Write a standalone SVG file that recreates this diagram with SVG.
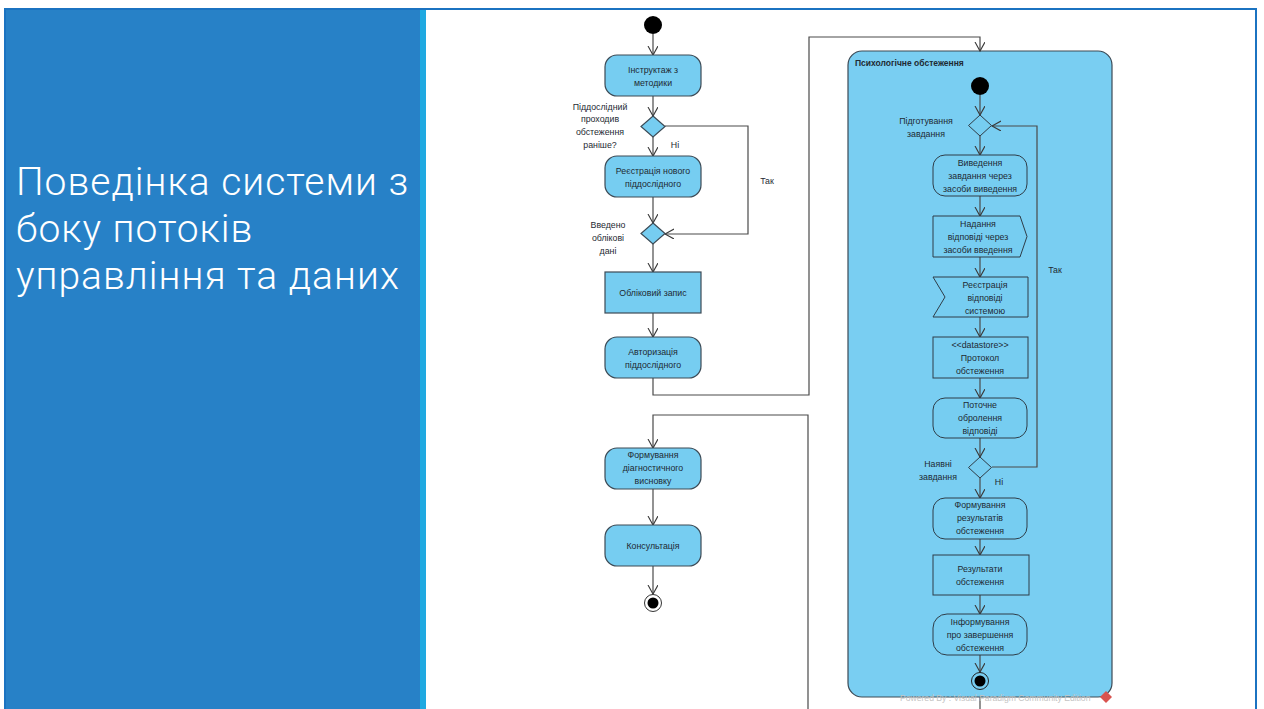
<svg xmlns="http://www.w3.org/2000/svg" width="1264" height="709" viewBox="0 0 1264 709">
  <style>
    .title { font-family: Roboto, "Open Sans", "DejaVu Sans", sans-serif; font-size: 39px; font-weight: 300; letter-spacing: 1px; fill: #ffffff; }
    .lbl { font-family: "Liberation Sans", Arial, sans-serif; font-size: 8.8px; fill: #1e2a33; text-anchor: middle; }
    .hdr { font-family: "Liberation Sans", Arial, sans-serif; font-size: 8.5px; font-weight: bold; fill: #1e2a33; }
    .node { fill: #76CDF1; stroke: #3c4a55; stroke-width: 1.2; }
    .inner { fill: #76CDF1; stroke: #2f3d48; stroke-width: 1; }
    .edge { fill: none; stroke: #4a4a4a; stroke-width: 1.2; }
    .wm { font-family: "Liberation Sans", Arial, sans-serif; font-size: 8.6px; fill: #c4c4c4; }
  </style>
  <defs>
    <marker id="open" markerWidth="12" markerHeight="12" refX="9" refY="5" orient="auto" markerUnits="userSpaceOnUse">
      <path d="M0,0 L9,5 L0,10" fill="none" stroke="#3a3a3a" stroke-width="1.1"/>
    </marker>
  </defs>

  <!-- slide background and frame -->
  <rect x="0" y="0" width="1264" height="709" fill="#ffffff"/>
  <rect x="6" y="9" width="414" height="700" fill="#2781C7"/>
  <rect x="420" y="9" width="6" height="700" fill="#1FA9E1"/>
  <path d="M5,709 L5,9 L1256,9 L1256,709" fill="none" stroke="#1B73C1" stroke-width="2"/>

  <!-- slide heading -->
  <g id="heading">
    <text class="title" x="16" y="195">Поведінка системи з<tspan x="16" dy="47">боку потоків</tspan><tspan x="16" dy="47">управління та даних</tspan></text>
  </g>

  <!-- composite activity frame -->
  <g id="psych-exam">
    <rect x="848" y="51" width="264" height="646" rx="14" fill="#79CEF2" stroke="#3c4a55" stroke-width="1.2"/>
    <text class="hdr" x="855" y="66">Психологічне обстеження</text>
  </g>

  <!-- connectors -->
  <g id="connectors">
    <!-- main column -->
    <line class="edge" x1="653" y1="34" x2="653" y2="55" marker-end="url(#open)"/>
    <line class="edge" x1="653" y1="96" x2="653" y2="116" marker-end="url(#open)"/>
    <line class="edge" x1="653" y1="137" x2="653" y2="156" marker-end="url(#open)"/>
    <polyline class="edge" points="665,126 748,126 748,234 665,234" marker-end="url(#open)"/>
    <line class="edge" x1="653" y1="197" x2="653" y2="223" marker-end="url(#open)"/>
    <line class="edge" x1="653" y1="244" x2="653" y2="272" marker-end="url(#open)"/>
    <line class="edge" x1="653" y1="313" x2="653" y2="337" marker-end="url(#open)"/>
    <polyline class="edge" points="653,378 653,395 809,395 809,37 980,37 980,51" marker-end="url(#open)"/>
    <polyline class="edge" points="808,709 808,415 653,415 653,448" marker-end="url(#open)"/>
    <line class="edge" x1="653" y1="489" x2="653" y2="525" marker-end="url(#open)"/>
    <line class="edge" x1="653" y1="566" x2="653" y2="594" marker-end="url(#open)"/>
    <line class="edge" x1="980" y1="697" x2="980" y2="709"/>
    <!-- inside the examination -->
    <line class="edge" x1="980" y1="95" x2="980" y2="115" marker-end="url(#open)"/>
    <line class="edge" x1="980" y1="136" x2="980" y2="155" marker-end="url(#open)"/>
    <line class="edge" x1="980" y1="196" x2="980" y2="216" marker-end="url(#open)"/>
    <line class="edge" x1="980" y1="257" x2="980" y2="277" marker-end="url(#open)"/>
    <line class="edge" x1="980" y1="317" x2="980" y2="337" marker-end="url(#open)"/>
    <line class="edge" x1="980" y1="378" x2="980" y2="398" marker-end="url(#open)"/>
    <line class="edge" x1="980" y1="438" x2="980" y2="457" marker-end="url(#open)"/>
    <polyline class="edge" points="992,467 1037,467 1037,126 992,126" marker-end="url(#open)"/>
    <line class="edge" x1="980" y1="478" x2="980" y2="498" marker-end="url(#open)"/>
    <line class="edge" x1="980" y1="539" x2="980" y2="555" marker-end="url(#open)"/>
    <line class="edge" x1="980" y1="595" x2="980" y2="614" marker-end="url(#open)"/>
    <line class="edge" x1="980" y1="655" x2="980" y2="672" marker-end="url(#open)"/>
  </g>

  <!-- guard labels -->
  <g id="guards">
    <text class="lbl" x="675" y="148">Ні</text>
    <text class="lbl" x="767" y="184">Так</text>
    <text class="lbl" x="1055" y="273">Так</text>
    <text class="lbl" x="999" y="485">Ні</text>
  </g>

  <!-- main column nodes -->
  <g id="start">
    <circle cx="653" cy="25" r="9" fill="#000"/>
  </g>
  <g id="instruction">
    <rect class="node" x="605" y="55" width="96" height="41" rx="12"/>
    <text class="lbl" x="653" y="73">Інструктаж з</text>
    <text class="lbl" x="653" y="86">методики</text>
  </g>
  <g id="decision-before">
    <polygon class="node" points="653,116 665,126.5 653,137 641,126.5"/>
    <text class="lbl" x="600" y="110">Піддослідний</text>
    <text class="lbl" x="600" y="122">проходив</text>
    <text class="lbl" x="600" y="135">обстеження</text>
    <text class="lbl" x="600" y="148">раніше?</text>
  </g>
  <g id="register">
    <rect class="node" x="605" y="156" width="96" height="41" rx="12"/>
    <text class="lbl" x="653" y="174">Реєстрація нового</text>
    <text class="lbl" x="653" y="187">піддослідного</text>
  </g>
  <g id="decision-data">
    <polygon class="node" points="653,223 665,233.5 653,244 641,233.5"/>
    <text class="lbl" x="608" y="228">Введено</text>
    <text class="lbl" x="608" y="241">облікові</text>
    <text class="lbl" x="608" y="254">дані</text>
  </g>
  <g id="account">
    <rect class="node" x="605" y="272" width="96" height="41"/>
    <text class="lbl" x="653" y="296">Обліковий запис</text>
  </g>
  <g id="auth">
    <rect class="node" x="605" y="337" width="96" height="41" rx="12"/>
    <text class="lbl" x="653" y="355">Авторизація</text>
    <text class="lbl" x="653" y="368">піддослідного</text>
  </g>
  <g id="diagnosis">
    <rect class="node" x="605" y="448" width="96" height="41" rx="12"/>
    <text class="lbl" x="653" y="458">Формування</text>
    <text class="lbl" x="653" y="471">діагностичного</text>
    <text class="lbl" x="653" y="484">висновку</text>
  </g>
  <g id="consult">
    <rect class="node" x="605" y="525" width="96" height="41" rx="12"/>
    <text class="lbl" x="653" y="549">Консультація</text>
  </g>
  <g id="end">
    <circle cx="653" cy="603" r="8.5" fill="#fff" stroke="#333" stroke-width="1"/>
    <circle cx="653" cy="603" r="5.5" fill="#000"/>
  </g>

  <!-- examination nodes -->
  <g id="exam-start">
    <circle cx="980" cy="86" r="9" fill="#000"/>
  </g>
  <g id="prepare">
    <polygon class="inner" points="980,115 991.5,125.5 980,136 968.5,125.5"/>
    <text class="lbl" x="926" y="124">Підготування</text>
    <text class="lbl" x="926" y="137">завдання</text>
  </g>
  <g id="output-task">
    <rect class="inner" x="933" y="155" width="94" height="41" rx="12"/>
    <text class="lbl" x="980" y="166">Виведення</text>
    <text class="lbl" x="980" y="179">завдання через</text>
    <text class="lbl" x="980" y="192">засоби виведення</text>
  </g>
  <g id="send-answer">
    <polygon class="inner" points="933,216 1020,216 1027,236.5 1020,257 933,257"/>
    <text class="lbl" x="978" y="227">Надання</text>
    <text class="lbl" x="978" y="240">відповіді через</text>
    <text class="lbl" x="978" y="253">засоби введення</text>
  </g>
  <g id="accept-answer">
    <polygon class="inner" points="933,277 1028,277 1028,317 933,317 945,297"/>
    <text class="lbl" x="985" y="288">Реєстрація</text>
    <text class="lbl" x="985" y="301">відповіді</text>
    <text class="lbl" x="985" y="314">системою</text>
  </g>
  <g id="protocol">
    <rect class="inner" x="933" y="337" width="95" height="41"/>
    <text class="lbl" x="980" y="348">&lt;&lt;datastore&gt;&gt;</text>
    <text class="lbl" x="980" y="361">Протокол</text>
    <text class="lbl" x="980" y="374">обстеження</text>
  </g>
  <g id="processing">
    <rect class="inner" x="933" y="398" width="94" height="40" rx="12"/>
    <text class="lbl" x="980" y="408">Поточне</text>
    <text class="lbl" x="980" y="421">обролення</text>
    <text class="lbl" x="980" y="434">відповіді</text>
  </g>
  <g id="tasks-left">
    <polygon class="inner" points="980,457 991.5,467.5 980,478 968.5,467.5"/>
    <text class="lbl" x="938" y="467">Наявні</text>
    <text class="lbl" x="938" y="480">завдання</text>
  </g>
  <g id="form-results">
    <rect class="inner" x="933" y="498" width="94" height="41" rx="12"/>
    <text class="lbl" x="980" y="508">Формування</text>
    <text class="lbl" x="980" y="521">результатів</text>
    <text class="lbl" x="980" y="534">обстеження</text>
  </g>
  <g id="results">
    <rect class="inner" x="933" y="555" width="96" height="40"/>
    <text class="lbl" x="980" y="572">Результати</text>
    <text class="lbl" x="980" y="585">обстеження</text>
  </g>
  <g id="inform">
    <rect class="inner" x="933" y="614" width="94" height="41" rx="14"/>
    <text class="lbl" x="980" y="625">Інформування</text>
    <text class="lbl" x="980" y="638">про завершення</text>
    <text class="lbl" x="980" y="651">обстеження</text>
  </g>
  <g id="exam-end">
    <circle cx="980" cy="681" r="8.5" fill="#79CEF2" stroke="#222" stroke-width="1"/>
    <circle cx="980" cy="681" r="5.5" fill="#000"/>
  </g>

  <!-- tool watermark -->
  <g id="watermark">
    <text class="wm" x="900" y="701">Powered By : Visual Paradigm Community Edition</text>
    <polygon points="1106,691 1112,697 1106,703 1100,697" fill="#d9534f"/>
  </g>
</svg>
